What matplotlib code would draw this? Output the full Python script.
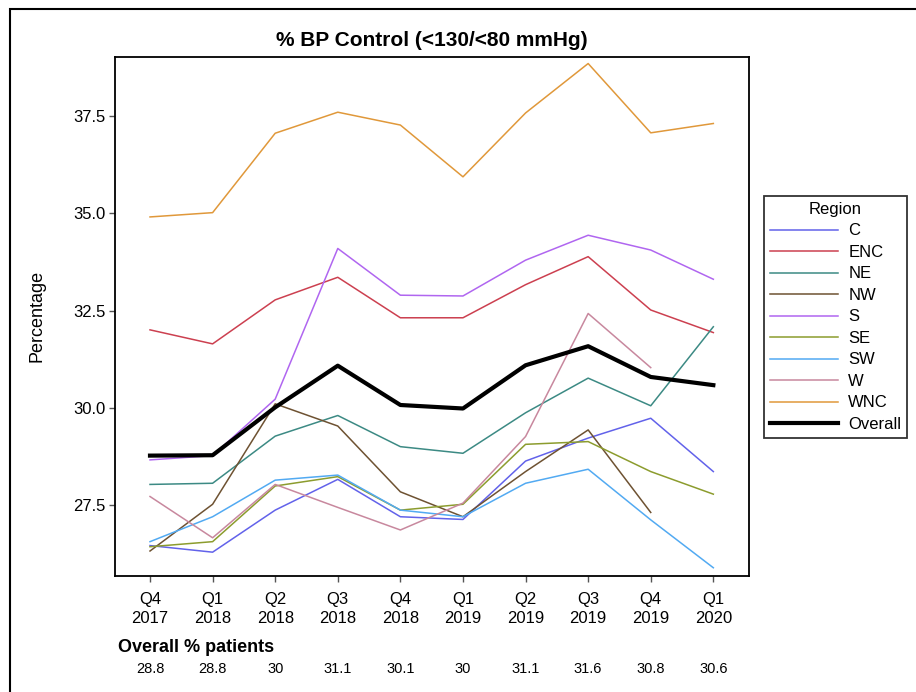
import numpy as np
import matplotlib
matplotlib.use("Agg")
import matplotlib.pyplot as plt
from matplotlib.patches import Rectangle

plt.rcParams['font.family'] = ['Liberation Sans', 'DejaVu Sans']

# Données
trimestres = ["Q4\n2017", "Q1\n2018", "Q2\n2018", "Q3\n2018", "Q4\n2018",
              "Q1\n2019", "Q2\n2019", "Q3\n2019", "Q4\n2019", "Q1\n2020"]

val_c = [26.47, 26.30, 27.38, 28.17, 27.21, 27.14, 28.64, 29.23, 29.74, 28.37]
val_enc = [32.01, 31.65, 32.78, 33.36, 32.32, 32.32, 33.17, 33.89, 32.52, 31.94]
val_ne = [28.04, 28.07, 29.28, 29.81, 29.01, 28.84, 29.88, 30.77, 30.06, 32.09]
val_nw = [26.33, 27.53, 30.11, 29.54, 27.85, 27.21, 28.37, 29.44, 27.32, np.nan]
val_s = [28.67, 28.78, 30.23, 34.10, 32.90, 32.88, 33.80, 34.44, 34.06, 33.31]
val_se = [26.44, 26.57, 28.00, 28.24, 27.38, 27.53, 29.07, 29.14, 28.37, 27.79]
val_sw = [26.57, 27.21, 28.15, 28.28, 27.38, 27.21, 28.07, 28.43, 27.13, 25.90]
val_w = [27.73, 26.67, 28.04, 27.45, 26.87, 27.56, 29.27, 32.43, 31.04, np.nan]
val_wnc = [34.91, 35.02, 37.06, 37.60, 37.27, 35.94, 37.58, 38.85, 37.07, 37.31]
val_overall = [28.78, 28.79, 30.02, 31.09, 30.08, 29.99, 31.10, 31.59, 30.80, 30.59]

regions = ["C", "ENC", "NE", "NW", "S", "SE", "SW", "W", "WNC"]
series = [val_c, val_enc, val_ne, val_nw, val_s, val_se, val_sw, val_w, val_wnc]
couleurs = ["#6262EA", "#CC4050", "#3C8A84", "#6E5232", "#B066F0",
            "#8C9C2E", "#52AAF2", "#C8889E", "#E0983A"]

pct_patients = ["28.8", "28.8", "30", "31.1", "30.1", "30", "31.1", "31.6", "30.8", "30.6"]

fig = plt.figure(figsize=(9.16, 6.92), dpi=100)
ax = fig.add_axes([0.1255, 0.1683, 0.6922, 0.7489])

x = np.arange(len(trimestres))
for nom, vals, coul in zip(regions, series, couleurs):
    ax.plot(x, vals, color=coul, lw=1.1, label=nom)
ax.plot(x, val_overall, color="black", lw=3, label="Overall")

ax.set_xlim(-0.56, 9.57)
ax.set_ylim(25.70, 39.01)
ax.set_xticks(x)
ax.set_xticklabels(trimestres, fontsize=12, linespacing=1.35)
ax.set_yticks([27.5, 30.0, 32.5, 35.0, 37.5])
ax.set_yticklabels(["27.5", "30.0", "32.5", "35.0", "37.5"], fontsize=12)
ax.tick_params(direction="out", length=4, width=1, color="#555555", pad=3)
ax.tick_params(axis="x", pad=8)
for sp in ax.spines.values():
    sp.set_linewidth(1.3)
ax.set_ylabel("Percentage", fontsize=13, labelpad=20)
ax.set_title("% BP Control (<130/<80 mmHg)", fontsize=15, fontweight="bold", pad=8)

# légende à droite
leg = fig.legend(loc="upper left", bbox_to_anchor=(764 / 916, 1 - 196 / 692),
                 title="Region", fontsize=12, title_fontsize=12, frameon=True,
                 fancybox=False, edgecolor="black", handlelength=4.1,
                 handletextpad=0.6, labelspacing=0.39, borderpad=0.35,
                 borderaxespad=0)
leg.get_frame().set_linewidth(1.3)

# tableau du bas
fig.text(118 / 916, 1 - 647 / 692, "Overall % patients", fontsize=13,
         fontweight="bold", va="center", ha="left")
for i, txt in enumerate(pct_patients):
    xf = fig.transFigure.inverted().transform(ax.transData.transform((i, 0)))[0]
    fig.text(xf, 1 - 669 / 692, txt, fontsize=10.5, ha="center", va="center")

# cadre extérieur
fig.patches.append(Rectangle((10 / 916, -0.1), 1.2, 1 - 9 / 692 + 0.1,
                             transform=fig.transFigure, fill=False, lw=1.5,
                             edgecolor="black"))

fig.savefig("out.png", dpi=100)
